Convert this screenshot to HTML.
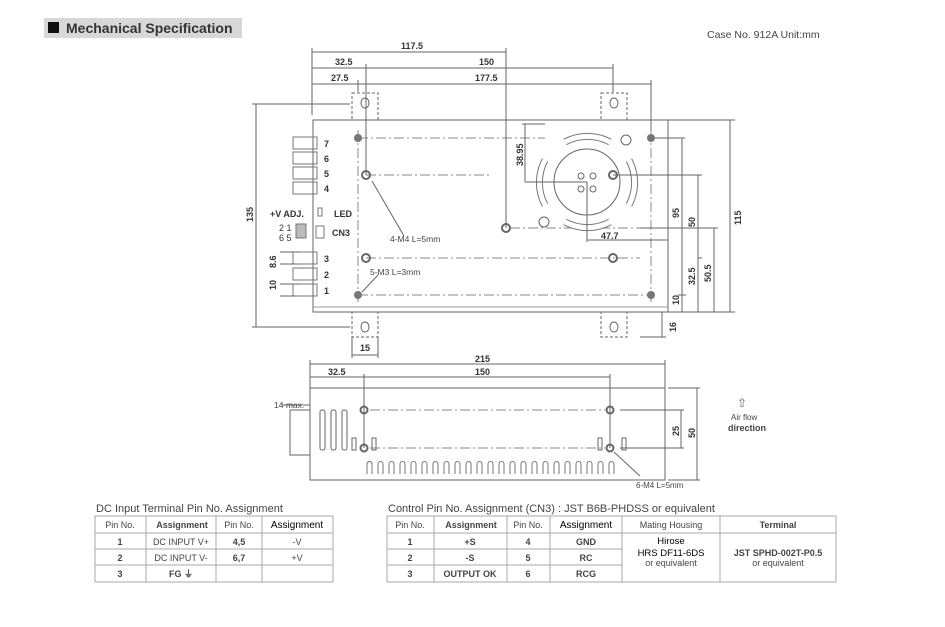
<!DOCTYPE html>
<html><head><style>
body{margin:0;background:#fff;}
svg{display:block;font-family:"Liberation Sans",sans-serif;}
</style></head><body>
<svg width="945" height="627" viewBox="0 0 945 627" xmlns="http://www.w3.org/2000/svg">
<rect width="945" height="627" fill="#fff"/>
<!-- title -->
<rect x="44" y="18" width="198" height="20" fill="#d8d8d8"/>
<rect x="48" y="22" width="11" height="11" fill="#111"/>
<text x="66" y="33" font-size="14" font-weight="bold" fill="#333">Mechanical Specification</text>
<text x="707" y="38" font-size="10.5" fill="#444">Case No. 912A   Unit:mm</text>

<g stroke="#666" stroke-width="1" fill="none">
<!-- main body -->
<rect x="313" y="120" width="355" height="192"/>
<line x1="313" y1="307" x2="668" y2="307" stroke="#999"/>
<!-- brackets -->
<rect x="352" y="93" width="26" height="27" stroke-dasharray="3,2"/>
<rect x="601" y="93" width="26" height="27" stroke-dasharray="3,2"/>
<rect x="352" y="312" width="26" height="25" stroke-dasharray="3,2"/>
<rect x="601" y="312" width="26" height="25" stroke-dasharray="3,2"/>
<ellipse cx="365" cy="103" rx="4" ry="5"/><ellipse cx="614" cy="103" rx="4" ry="5"/>
<ellipse cx="365" cy="327" rx="4" ry="5"/><ellipse cx="614" cy="327" rx="4" ry="5"/>
<!-- dash-dot lines -->
<g stroke="#888" stroke-dasharray="10,3,2,3">
<line x1="358" y1="130" x2="358" y2="305"/>
<line x1="651" y1="130" x2="651" y2="305"/>
<line x1="358" y1="138" x2="545" y2="138"/>
<line x1="358" y1="295" x2="651" y2="295"/>
<line x1="366" y1="175" x2="490" y2="175"/>
<line x1="366" y1="258" x2="640" y2="258"/>
<line x1="510" y1="228" x2="640" y2="228"/>
</g>
<!-- fan -->
<circle cx="587" cy="182" r="33"/>
<path d="M545 160 A48 48 0 0 0 545 205" stroke-width="7" stroke="#777"/>
<path d="M545 160 A48 48 0 0 0 545 205" stroke-width="5" stroke="#fff"/>
<path d="M629 160 A48 48 0 0 1 629 205" stroke-width="7" stroke="#777"/>
<path d="M629 160 A48 48 0 0 1 629 205" stroke-width="5" stroke="#fff"/>
<path d="M565 142 A48 48 0 0 1 610 142" stroke-width="7" stroke="#777"/>
<path d="M565 142 A48 48 0 0 1 610 142" stroke-width="5" stroke="#fff"/>
<path d="M565 222 A48 48 0 0 0 610 222" stroke-width="7" stroke="#777"/>
<path d="M565 222 A48 48 0 0 0 610 222" stroke-width="5" stroke="#fff"/>
<circle cx="581" cy="176" r="3"/><circle cx="593" cy="176" r="3"/><circle cx="581" cy="189" r="3"/><circle cx="593" cy="189" r="3"/>
<circle cx="626" cy="140" r="5"/><circle cx="544" cy="222" r="5"/>
<!-- holes -->
<circle cx="366" cy="175" r="4" stroke-width="2"/>
<circle cx="613" cy="175" r="4" stroke-width="2"/>
<circle cx="366" cy="258" r="4" stroke-width="2"/>
<circle cx="613" cy="258" r="4" stroke-width="2"/>
<circle cx="506" cy="228" r="4" stroke-width="2"/>
<!-- dims top -->
<line x1="312" y1="52" x2="506" y2="52"/>
<line x1="312" y1="68" x2="613" y2="68"/>
<line x1="312" y1="84" x2="651" y2="84"/>
<line x1="312" y1="48" x2="312" y2="115"/>
<line x1="506" y1="48" x2="506" y2="228"/>
<line x1="366" y1="64" x2="366" y2="175"/>
<line x1="358" y1="80" x2="358" y2="92"/>
<line x1="613" y1="64" x2="613" y2="92"/>
<line x1="651" y1="80" x2="651" y2="130"/>
<!-- left 135 -->
<line x1="256" y1="104" x2="256" y2="327"/>
<line x1="252" y1="104" x2="350" y2="104"/>
<line x1="252" y1="327" x2="350" y2="327"/>
<!-- right dims -->
<line x1="730" y1="120" x2="730" y2="312"/>
<line x1="668" y1="120" x2="735" y2="120"/>
<line x1="668" y1="312" x2="735" y2="312"/>
<line x1="682" y1="138" x2="682" y2="312"/><line x1="651" y1="138" x2="685" y2="138"/>
<line x1="698" y1="175" x2="698" y2="312"/><line x1="613" y1="175" x2="702" y2="175"/>
<line x1="714" y1="228" x2="714" y2="312"/><line x1="640" y1="228" x2="718" y2="228"/>
<line x1="698" y1="258" x2="702" y2="258"/>
<line x1="678" y1="295" x2="686" y2="295"/>
<line x1="525" y1="124" x2="525" y2="182"/><line x1="522" y1="124" x2="545" y2="124"/>
<line x1="525" y1="182" x2="587" y2="182"/>
<line x1="587" y1="182" x2="587" y2="242"/>
<line x1="587" y1="240" x2="668" y2="240"/>
<line x1="662" y1="312" x2="662" y2="337"/><line x1="640" y1="337" x2="666" y2="337"/>
<line x1="352" y1="355" x2="378" y2="355"/><line x1="352" y1="337" x2="352" y2="358"/><line x1="378" y1="337" x2="378" y2="358"/>
<!-- leaders -->
<line x1="372" y1="181" x2="404" y2="236"/>
<line x1="362" y1="292" x2="378" y2="275"/>
<!-- terminal block -->
<line x1="313" y1="128" x2="313" y2="305"/>
<g stroke="#777">
<rect x="293" y="137" width="24" height="12"/><rect x="293" y="152" width="24" height="12"/>
<rect x="293" y="167" width="24" height="12"/><rect x="293" y="182" width="24" height="12"/>
<rect x="293" y="252" width="24" height="12"/><rect x="293" y="268" width="24" height="12"/>
<rect x="293" y="284" width="24" height="12"/>
<rect x="296" y="224" width="10" height="14" fill="#bbb"/>
<rect x="316" y="226" width="8" height="12"/>
<rect x="318" y="208" width="4" height="8"/>
</g>
<line x1="280" y1="252" x2="300" y2="252"/><line x1="280" y1="264" x2="300" y2="264"/>
<line x1="280" y1="284" x2="300" y2="284"/><line x1="280" y1="296" x2="300" y2="296"/>
</g>
<g fill="#777"><circle cx="358" cy="138" r="4"/><circle cx="651" cy="138" r="4"/><circle cx="358" cy="295" r="4"/><circle cx="651" cy="295" r="4"/></g>
<g font-size="9" fill="#333" font-weight="bold">
<text x="401" y="49">117.5</text><text x="335" y="65">32.5</text><text x="479" y="65">150</text>
<text x="331" y="81">27.5</text><text x="475" y="81">177.5</text>
<text x="324" y="147">7</text><text x="324" y="162">6</text><text x="324" y="177">5</text><text x="324" y="192">4</text>
<text x="324" y="262">3</text><text x="324" y="278">2</text><text x="324" y="294">1</text>
<text x="270" y="217">+V ADJ.</text><text x="334" y="217">LED</text>
<text x="332" y="236">CN3</text>
<text x="279" y="231" font-weight="normal">2 1</text><text x="279" y="241" font-weight="normal">6 5</text>
<text x="601" y="239">47.7</text><text x="360" y="351">15</text>
<text transform="translate(253,222) rotate(-90)">135</text>
<text transform="translate(741,225) rotate(-90)">115</text>
<text transform="translate(679,218) rotate(-90)">95</text>
<text transform="translate(695,227) rotate(-90)">50</text>
<text transform="translate(711,282) rotate(-90)">50.5</text>
<text transform="translate(695,285) rotate(-90)">32.5</text>
<text transform="translate(679,305) rotate(-90)">10</text>
<text transform="translate(676,332) rotate(-90)">16</text>
<text transform="translate(523,166) rotate(-90)">38.95</text>
<text transform="translate(276,268) rotate(-90)">8.6</text>
<text transform="translate(276,290) rotate(-90)">10</text>
</g>
<g font-size="8.5" fill="#444"><text x="390" y="242">4-M4 L=5mm</text><text x="370" y="275">5-M3 L=3mm</text></g>

<!-- side view -->
<g stroke="#666" fill="none">
<rect x="310" y="388" width="355" height="92"/>
<line x1="310" y1="364" x2="665" y2="364"/><line x1="310" y1="377" x2="610" y2="377"/>
<line x1="310" y1="360" x2="310" y2="388"/><line x1="665" y1="360" x2="665" y2="388"/>
<line x1="364" y1="374" x2="364" y2="448"/><line x1="610" y1="374" x2="610" y2="448"/>
<line x1="668" y1="388" x2="700" y2="388"/><line x1="668" y1="480" x2="700" y2="480"/>
<line x1="697" y1="388" x2="697" y2="480"/>
<line x1="681" y1="410" x2="681" y2="448"/>
<line x1="620" y1="410" x2="684" y2="410"/><line x1="620" y1="448" x2="684" y2="448"/>
<g stroke="#888" stroke-dasharray="10,3,2,3"><line x1="370" y1="410" x2="605" y2="410"/><line x1="370" y1="448" x2="605" y2="448"/></g>
<rect x="290" y="410" width="20" height="45"/>
<line x1="282" y1="405" x2="310" y2="405"/>
<circle cx="364" cy="410" r="3.5" stroke-width="2"/><circle cx="610" cy="410" r="3.5" stroke-width="2"/>
<circle cx="364" cy="448" r="3.5" stroke-width="2"/><circle cx="610" cy="448" r="3.5" stroke-width="2"/>
<rect x="320" y="410" width="5" height="40" rx="2"/><rect x="331" y="410" width="5" height="40" rx="2"/><rect x="342" y="410" width="5" height="40" rx="2"/>
<rect x="352" y="438" width="4" height="12"/><rect x="372" y="438" width="4" height="12"/>
<rect x="598" y="438" width="4" height="12"/><rect x="622" y="438" width="4" height="12"/>
<line x1="614" y1="452" x2="640" y2="476"/>
</g>
<g stroke="#777" fill="none">
<path id="slot" d="M367 474 V464 a2.5 2.5 0 0 1 5 0 V474"/>
</g>
<g stroke="#777" fill="none">
<path d="M367 474V464a2.5 2.5 0 0 1 5 0V474M378 474V464a2.5 2.5 0 0 1 5 0V474M389 474V464a2.5 2.5 0 0 1 5 0V474M400 474V464a2.5 2.5 0 0 1 5 0V474M411 474V464a2.5 2.5 0 0 1 5 0V474M422 474V464a2.5 2.5 0 0 1 5 0V474M433 474V464a2.5 2.5 0 0 1 5 0V474M444 474V464a2.5 2.5 0 0 1 5 0V474M455 474V464a2.5 2.5 0 0 1 5 0V474M466 474V464a2.5 2.5 0 0 1 5 0V474M477 474V464a2.5 2.5 0 0 1 5 0V474M488 474V464a2.5 2.5 0 0 1 5 0V474M499 474V464a2.5 2.5 0 0 1 5 0V474M510 474V464a2.5 2.5 0 0 1 5 0V474M521 474V464a2.5 2.5 0 0 1 5 0V474M532 474V464a2.5 2.5 0 0 1 5 0V474M543 474V464a2.5 2.5 0 0 1 5 0V474M554 474V464a2.5 2.5 0 0 1 5 0V474M565 474V464a2.5 2.5 0 0 1 5 0V474M576 474V464a2.5 2.5 0 0 1 5 0V474M587 474V464a2.5 2.5 0 0 1 5 0V474M598 474V464a2.5 2.5 0 0 1 5 0V474M609 474V464a2.5 2.5 0 0 1 5 0V474"/>
</g>
<g font-size="9" fill="#333" font-weight="bold">
<text x="475" y="362">215</text><text x="328" y="375">32.5</text><text x="475" y="375">150</text>
<text transform="translate(679,436) rotate(-90)">25</text>
<text transform="translate(695,438) rotate(-90)">50</text>
</g>
<text x="274" y="408" font-size="8.5" fill="#444">14 max.</text>
<text x="636" y="488" font-size="8" fill="#444">6-M4 L=5mm</text>
<text x="737" y="407" font-size="12" fill="#666">⇧</text>
<text x="731" y="420" font-size="8" fill="#444">Air flow</text>
<text x="728" y="431" font-size="9" font-weight="bold" fill="#444">direction</text>

<!-- tables -->
<g font-size="11" fill="#444"><text x="96" y="512">DC Input Terminal Pin No.  Assignment</text>
<text x="388" y="512">Control Pin No. Assignment (CN3) : JST B6B-PHDSS or equivalent</text></g>
<g stroke="#aaa" fill="none">
<rect x="95" y="516" width="238" height="66"/>
<line x1="95" y1="533" x2="333" y2="533"/><line x1="95" y1="549" x2="333" y2="549"/><line x1="95" y1="565" x2="333" y2="565"/>
<line x1="146" y1="516" x2="146" y2="582"/><line x1="216" y1="516" x2="216" y2="582"/><line x1="262" y1="516" x2="262" y2="582"/>
<rect x="387" y="516" width="449" height="66"/>
<line x1="387" y1="533" x2="836" y2="533"/><line x1="387" y1="549" x2="622" y2="549"/><line x1="387" y1="565" x2="622" y2="565"/>
<line x1="434" y1="516" x2="434" y2="582"/><line x1="507" y1="516" x2="507" y2="582"/><line x1="550" y1="516" x2="550" y2="582"/>
<line x1="622" y1="516" x2="622" y2="582"/><line x1="720" y1="516" x2="720" y2="582"/>
</g>
<g font-size="9" fill="#444" text-anchor="middle">
<text x="120" y="528">Pin No.</text><text x="182" y="528" font-weight="bold">Assignment</text><text x="239" y="528">Pin No.</text><text x="297" y="528" fill="#000" font-size="10">Assignment</text>
<text x="120" y="545" font-weight="bold">1</text><text x="181" y="545">DC INPUT V+</text><text x="239" y="545" font-weight="bold">4,5</text><text x="297" y="545">-V</text>
<text x="120" y="561" font-weight="bold">2</text><text x="181" y="561">DC INPUT V-</text><text x="239" y="561" font-weight="bold">6,7</text><text x="297" y="561">+V</text>
<text x="120" y="577" font-weight="bold">3</text><text x="181" y="577" font-weight="bold">FG ⏚</text>
<text x="410" y="528">Pin No.</text><text x="471" y="528" font-weight="bold">Assignment</text><text x="528" y="528">Pin No.</text><text x="586" y="528" fill="#000" font-size="10">Assignment</text>
<text x="671" y="528">Mating Housing</text><text x="778" y="528" font-weight="bold">Terminal</text>
<text x="410" y="545" font-weight="bold">1</text><text x="470" y="545" font-weight="bold">+S</text><text x="528" y="545" font-weight="bold">4</text><text x="586" y="545" font-weight="bold">GND</text>
<text x="410" y="561" font-weight="bold">2</text><text x="470" y="561" font-weight="bold">-S</text><text x="528" y="561" font-weight="bold">5</text><text x="586" y="561" font-weight="bold">RC</text>
<text x="410" y="577" font-weight="bold">3</text><text x="470" y="577" font-weight="bold">OUTPUT OK</text><text x="528" y="577" font-weight="bold">6</text><text x="586" y="577" font-weight="bold">RCG</text>
<text x="671" y="544" fill="#000" font-size="9.5">Hirose</text><text x="671" y="556" fill="#000" font-size="9.5">HRS DF11-6DS</text><text x="671" y="566">or equivalent</text>
<text x="778" y="556" font-weight="bold">JST SPHD-002T-P0.5</text><text x="778" y="566">or equivalent</text>
</g>
</svg>
</body></html>
